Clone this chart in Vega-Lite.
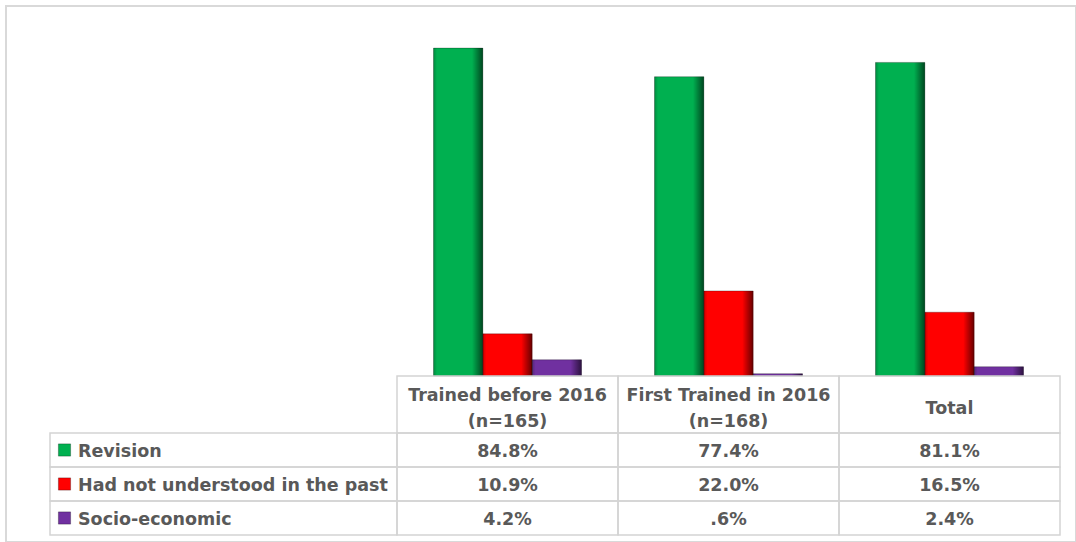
{
  "$schema": "https://vega.github.io/schema/vega-lite/v6.json",
  "autosize": {"type": "none"},
  "padding": {"left": 6, "top": 6, "right": 0, "bottom": 0},
  "width": 1070,
  "height": 536,
  "background": "white",
  "config": {
    "view": {"stroke": "#d9d9d9", "strokeWidth": 2},
    "text": {"font": "DejaVu Sans", "fontWeight": "bold", "fontSize": 17.5, "color": "#595959"}
  },
  "datasets": {
    "vals": [
      {"group": "Trained before 2016 (n=165)", "reason": "Revision", "pct": 84.8, "text": "84.8%"},
      {"group": "Trained before 2016 (n=165)", "reason": "Had not understood in the past", "pct": 10.9, "text": "10.9%"},
      {"group": "Trained before 2016 (n=165)", "reason": "Socio-economic", "pct": 4.2, "text": "4.2%"},
      {"group": "First Trained in 2016 (n=168)", "reason": "Revision", "pct": 77.4, "text": "77.4%"},
      {"group": "First Trained in 2016 (n=168)", "reason": "Had not understood in the past", "pct": 22.0, "text": "22.0%"},
      {"group": "First Trained in 2016 (n=168)", "reason": "Socio-economic", "pct": 0.6, "text": ".6%"},
      {"group": "Total", "reason": "Revision", "pct": 81.1, "text": "81.1%"},
      {"group": "Total", "reason": "Had not understood in the past", "pct": 16.5, "text": "16.5%"},
      {"group": "Total", "reason": "Socio-economic", "pct": 2.4, "text": "2.4%"}
    ],
    "cols": [
      {"group": "Trained before 2016 (n=165)", "part": "header"},
      {"group": "First Trained in 2016 (n=168)", "part": "header"},
      {"group": "Total", "part": "header"}
    ],
    "headerLines": [
      {"group": "Trained before 2016 (n=165)", "line": "first", "text": "Trained before 2016"},
      {"group": "Trained before 2016 (n=165)", "line": "second", "text": "(n=165)"},
      {"group": "First Trained in 2016 (n=168)", "line": "first", "text": "First Trained in 2016"},
      {"group": "First Trained in 2016 (n=168)", "line": "second", "text": "(n=168)"},
      {"group": "Total", "line": "single", "text": "Total"}
    ]
  },
  "resolve": {"scale": {"x": "independent", "y": "independent"}},
  "layer": [
    {
      "data": {"name": "vals"},
      "encoding": {
        "x": {"field": "group", "type": "nominal", "axis": null,
              "scale": {"domain": ["Trained before 2016 (n=165)", "First Trained in 2016 (n=168)", "Total"], "range": [391, 1054], "paddingInner": 0, "paddingOuter": 0}},
        "xOffset": {"field": "reason", "type": "nominal",
              "scale": {"domain": ["Revision", "Had not understood in the past", "Socio-economic"], "paddingInner": 0, "paddingOuter": 0.74}},
        "y": {"field": "pct", "type": "quantitative", "axis": null,
              "scale": {"domain": [0, 90], "range": [370, 22], "nice": false}}
      },
      "layer": [
        {
          "mark": {"type": "bar"},
          "encoding": {
            "color": {"field": "reason", "type": "nominal", "legend": null,
                      "scale": {"domain": ["Revision", "Had not understood in the past", "Socio-economic"], "range": ["#00B050", "#FF0000", "#7030A0"]}}
          }
        },
        {
          "mark": {
            "type": "bar",
            "stroke": "rgba(0,0,0,0.35)",
            "strokeWidth": 0.8,
            "fill": {
              "gradient": "linear", "x1": 0, "y1": 0, "x2": 1, "y2": 0,
              "stops": [
                {"offset": 0, "color": "rgba(0,0,0,0.22)"},
                {"offset": 0.07, "color": "rgba(0,0,0,0)"},
                {"offset": 0.78, "color": "rgba(0,0,0,0)"},
                {"offset": 1, "color": "rgba(0,0,0,0.6)"}
              ]
            }
          }
        }
      ]
    },
    {
      "data": {"name": "cols"},
      "mark": {"type": "rect", "fill": "white", "fillOpacity": 0, "stroke": "#d4d4d4", "strokeWidth": 1.5},
      "encoding": {
        "x": {"field": "group", "type": "nominal", "axis": null,
              "scale": {"domain": ["Trained before 2016 (n=165)", "First Trained in 2016 (n=168)", "Total"], "range": [391, 1054], "paddingInner": 0, "paddingOuter": 0}},
        "y": {"field": "part", "type": "nominal", "axis": null,
              "scale": {"domain": ["header"], "range": [370, 427], "paddingInner": 0, "paddingOuter": 0}}
      }
    },
    {
      "data": {"name": "headerLines"},
      "mark": {"type": "text", "baseline": "middle", "align": "center", "dy": 1},
      "encoding": {
        "x": {"field": "group", "type": "nominal", "axis": null,
              "scale": {"domain": ["Trained before 2016 (n=165)", "First Trained in 2016 (n=168)", "Total"], "range": [391, 1054], "paddingInner": 0, "paddingOuter": 0}},
        "y": {"field": "line", "type": "ordinal", "axis": null,
              "scale": {"type": "point", "domain": ["first", "single", "second"], "range": [389, 415], "padding": 0}},
        "text": {"field": "text"}
      }
    },
    {
      "data": {"name": "vals"},
      "encoding": {
        "x": {"field": "group", "type": "nominal", "axis": null,
              "scale": {"domain": ["Trained before 2016 (n=165)", "First Trained in 2016 (n=168)", "Total"], "range": [391, 1054], "paddingInner": 0, "paddingOuter": 0}},
        "y": {"field": "reason", "type": "nominal", "axis": null,
              "scale": {"domain": ["Revision", "Had not understood in the past", "Socio-economic"], "range": [427, 529], "paddingInner": 0, "paddingOuter": 0}}
      },
      "layer": [
        {"mark": {"type": "rect", "fill": "white", "fillOpacity": 0, "stroke": "#d4d4d4", "strokeWidth": 1.5}},
        {"mark": {"type": "text", "baseline": "middle", "align": "center", "dy": 1.5},
         "encoding": {"text": {"field": "text"}}}
      ]
    },
    {
      "data": {"name": "vals"},
      "transform": [{"filter": "datum.group === 'Total'"}],
      "encoding": {
        "x": {"datum": "label", "type": "nominal", "axis": null,
              "scale": {"domain": ["label"], "range": [44, 391], "paddingInner": 0, "paddingOuter": 0}},
        "y": {"field": "reason", "type": "nominal", "axis": null,
              "scale": {"domain": ["Revision", "Had not understood in the past", "Socio-economic"], "range": [427, 529], "paddingInner": 0, "paddingOuter": 0}}
      },
      "layer": [
        {"mark": {"type": "rect", "fill": "white", "fillOpacity": 0, "stroke": "#d4d4d4", "strokeWidth": 1.5}},
        {"mark": {"type": "text", "baseline": "middle", "align": "left", "dx": 28, "dy": 1.5},
         "encoding": {
           "x": {"datum": "label", "type": "nominal", "axis": null, "bandPosition": 0,
                 "scale": {"domain": ["label"], "range": [44, 391], "paddingInner": 0, "paddingOuter": 0}},
           "text": {"field": "reason"}}},
        {"mark": {"type": "point", "shape": "square", "filled": true, "opacity": 1, "size": 150, "xOffset": 14.5,
                  "stroke": "rgba(0,0,0,0.35)", "strokeWidth": 0.8},
         "encoding": {
           "x": {"datum": "label", "type": "nominal", "axis": null, "bandPosition": 0,
                 "scale": {"domain": ["label"], "range": [44, 391], "paddingInner": 0, "paddingOuter": 0}},
           "color": {"field": "reason", "type": "nominal", "legend": null,
                     "scale": {"domain": ["Revision", "Had not understood in the past", "Socio-economic"], "range": ["#00B050", "#FF0000", "#7030A0"]}}}}
      ]
    }
  ]
}
